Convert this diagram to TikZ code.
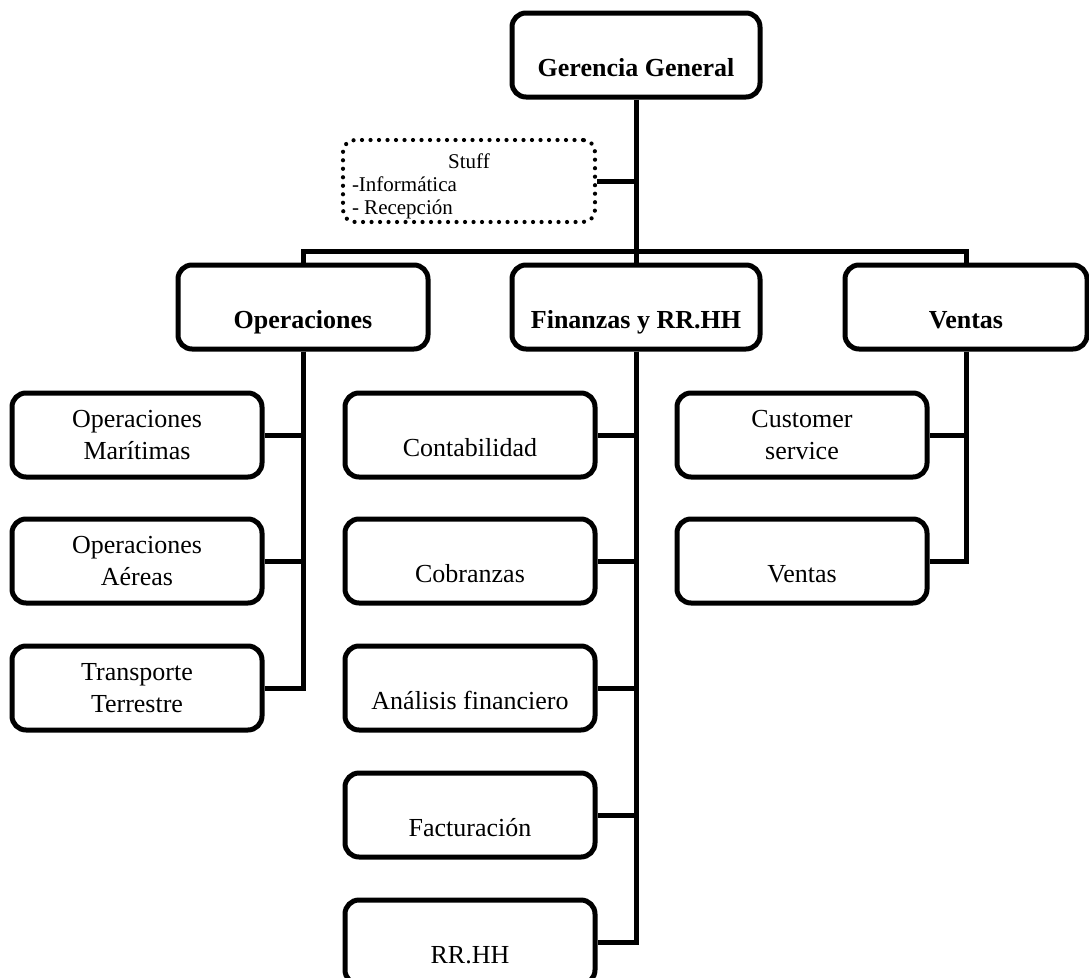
\documentclass[tikz,border=0pt]{standalone}
\usepackage{fontspec}
\setmainfont{Liberation Serif}
\usetikzlibrary{positioning}
\tikzset{
  ox/.style={x=1pt, y=-1pt},
  o box/.style={draw, line width=5pt, rounded corners=14pt, align=center, minimum width=250pt, minimum height=84pt, inner sep=0pt, font=\fontsize{26}{32}\selectfont},
  o low/.style={o box, text height=63pt, text depth=21pt},
  o top/.style={o low, font=\fontsize{26}{32}\selectfont\bfseries},
  o stuff/.style={draw, line width=4.2pt, line cap=round, dash pattern=on 0pt off 8.5pt, rounded corners=12pt, minimum width=252pt, minimum height=82pt, inner sep=0pt, font=\fontsize{21}{23}\selectfont},
  o line/.style={line width=5pt},
}
\begin{document}
\begin{tikzpicture}[ox]
\useasboundingbox (0,0) rectangle (1089,977);
\node[o top, minimum width=248pt] (gg) at (636,55) {Gerencia General};
\node[o stuff] (stf) at (469,181) {\parbox{234pt}{\vspace*{10pt}\centering Stuff\par\raggedright -Informática\\- Recepción}};
\node[o top] (ops) at (303,307) {Operaciones};
\node[o top, minimum width=248pt] (fin) at (636,307) {Finanzas y RR.HH};
\node[o top, minimum width=242pt] (ven) at (966,307) {Ventas};
\node[o box] (opm) at (137,435) {Operaciones\\Marítimas};
\node[o box] (opa) at (137,561) {Operaciones\\Aéreas};
\node[o box] (opt) at (137,688) {Transporte\\Terrestre};
\node[o low] (fcon) at (470,435) {Contabilidad};
\node[o low] (fcob) at (470,561) {Cobranzas};
\node[o low] (fana) at (470,688) {Análisis financiero};
\node[o low] (ffac) at (470,815) {Facturación};
\node[o low] (frh) at (470,942) {RR.HH};
\node[o box] (vcs) at (802,435) {Customer\\service};
\node[o low] (vven) at (802,561) {Ventas};
\coordinate (hub) at (636,251);
\draw[o line] (gg.south)--(fin.north); \draw[o line] (stf.east)--(stf.east -| gg.south);
\draw[o line] (ops.north) |- (hub) -| (ven.north);
\draw[o line] (ops.south) |- (opm.east); \draw[o line] (ops.south) |- (opa.east); \draw[o line] (ops.south) |- (opt.east);
\draw[o line] (fin.south) |- (fcon.east); \draw[o line] (fin.south) |- (fcob.east); \draw[o line] (fin.south) |- (fana.east);
\draw[o line] (fin.south) |- (ffac.east); \draw[o line] (fin.south) |- (frh.east);
\draw[o line] (ven.south) |- (vcs.east); \draw[o line] (ven.south) |- (vven.east);
\end{tikzpicture}
\end{document}
